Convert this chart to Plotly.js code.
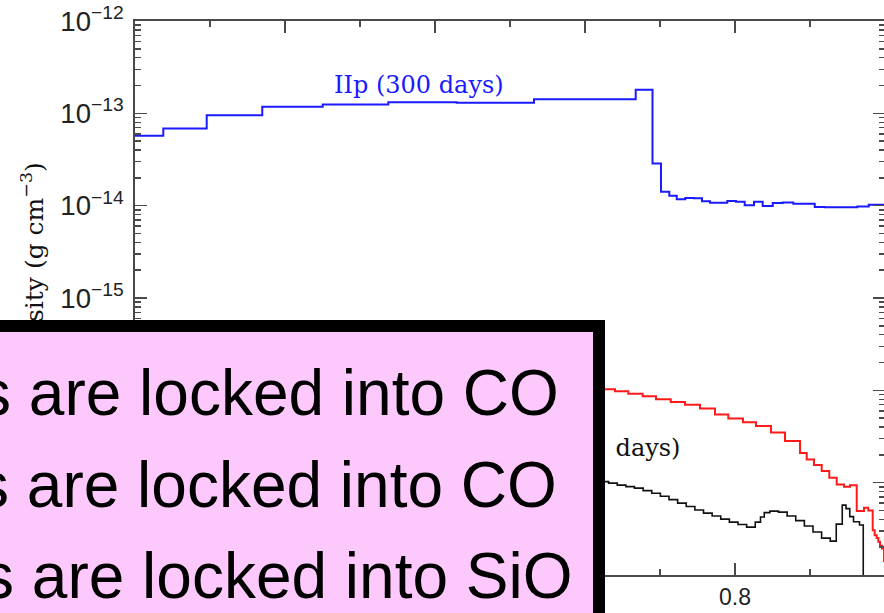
<!DOCTYPE html>
<html>
<head>
<meta charset="utf-8">
<script src="https://cdn.plot.ly/plotly-3.0.1.min.js"></script>
<style>
  html, body { margin: 0; padding: 0; background: #ffffff; overflow: hidden; }
  #chart { width: 886px; height: 613px; }
</style>
</head>
<body>
<div id="chart"></div>
<script>
// Mass coordinate (left bin edges) and gas density (g cm^-3), stepped profiles
const xIIp = [0, 0.0377, 0.0956, 0.1697, 0.2503, 0.3377, 0.4289, 0.532, 0.6676, 0.69,
  0.7013, 0.7124, 0.7223, 0.7337, 0.7453, 0.756, 0.7667, 0.7897, 0.8013, 0.8129,
  0.8253, 0.8369, 0.8503, 0.8636, 0.8777, 0.9063, 0.9196, 0.9631, 0.9783, 1.0];
const rhoIIp = [5.71e-14, 6.85e-14, 9.55e-14, 1.175e-13, 1.245e-13, 1.32e-13, 1.30e-13, 1.42e-13, 1.795e-13, 2.86e-14,
  1.415e-14, 1.28e-14, 1.175e-14, 1.21e-14, 1.20e-14, 1.115e-14, 1.075e-14, 1.12e-14, 1.10e-14, 1.01e-14,
  1.10e-14, 9.93e-15, 1.07e-14, 1.085e-14, 1.05e-14, 9.68e-15, 9.6e-15, 9.77e-15, 1.02e-14, 1.02e-14];

const xRed = [0.62, 0.64, 0.6577, 0.6769, 0.6947, 0.7143, 0.7333, 0.7533, 0.7733, 0.7911,
  0.8107, 0.828, 0.848, 0.8667, 0.8867, 0.8956, 0.9053, 0.9156, 0.9257, 0.9356,
  0.9453, 0.9533, 0.9623, 0.972, 0.9777, 0.9836, 0.9862, 0.9889, 0.9911, 0.9933,
  0.996, 0.9987, 1.0];
const rhoRed = [1.026e-16, 9.75e-17, 9.21e-17, 8.61e-17, 8.00e-17, 7.48e-17, 7.00e-17, 6.34e-17, 5.46e-17, 4.94e-17,
  4.51e-17, 4.11e-17, 3.49e-17, 2.83e-17, 2.10e-17, 1.78e-17, 1.55e-17, 1.34e-17, 1.13e-17, 9.57e-18,
  9.02e-18, 9.40e-18, 4.92e-18, 5.34e-18, 4.98e-18, 3.06e-18, 2.70e-18, 2.51e-18, 2.29e-18, 2.07e-18,
  1.94e-18, 1.42e-18, 1.42e-18];

const xBlack = [0.62, 0.6315, 0.643, 0.6545, 0.666, 0.6775, 0.689, 0.7005, 0.712, 0.7235,
  0.735, 0.7465, 0.758, 0.7695, 0.781, 0.7925, 0.804, 0.8155, 0.827, 0.834,
  0.839, 0.8465, 0.858, 0.8695, 0.881, 0.8925, 0.904, 0.9155, 0.927, 0.935,
  0.943, 0.948, 0.953, 0.958, 0.966, 0.971];
const rhoBlack = [1.026e-17, 9.89e-18, 9.40e-18, 9.06e-18, 8.73e-18, 8.20e-18, 7.69e-18, 7.14e-18, 6.55e-18, 6.00e-18,
  5.51e-18, 5.05e-18, 4.68e-18, 4.35e-18, 4.03e-18, 3.74e-18, 3.52e-18, 3.30e-18, 3.74e-18, 4.24e-18,
  4.74e-18, 4.92e-18, 4.80e-18, 4.35e-18, 3.88e-18, 3.39e-18, 2.92e-18, 2.51e-18, 2.33e-18, 3.56e-18,
  5.71e-18, 5.24e-18, 4.29e-18, 3.78e-18, 3.48e-18, 1e-19];

const xTickVals = [0, 0.2, 0.4, 0.6, 0.8];

const bulletLines = ["s are locked into CO", "s are locked into CO", "s are locked into SiO"];

// plot-area geometry helpers (pixels -> paper fractions)
const M = { l: 135, r: 1, t: 21, b: 38 };
const W = 886, H = 613;
const PW = W - M.l - M.r, PH = H - M.t - M.b;
const px = p => (p - M.l) / PW;
const py = p => (H - M.b - p) / PH;

const axisGrey = '#4a4a4a';
const serif = 'DejaVu Serif, serif';
const sans = 'Liberation Sans, Arial, sans-serif';

const traces = [
  { x: xIIp, y: rhoIIp, mode: 'lines', line: { shape: 'hv', color: '#1a1aff', width: 2 }, hoverinfo: 'skip' },
  { x: xRed, y: rhoRed, mode: 'lines', line: { shape: 'hv', color: '#ff1a1a', width: 2 }, hoverinfo: 'skip' },
  { x: xBlack, y: rhoBlack, mode: 'lines', line: { shape: 'hv', color: '#111111', width: 1.6 }, hoverinfo: 'skip' }
];

const annotations = [
  { xref: 'x', yref: 'y', x: 0.3787, y: -12.693, text: 'IIp (300 days)', showarrow: false,
    font: { family: serif, size: 24, color: '#1a1aff' } },
  { xref: 'x', yref: 'y', x: 0.7287, y: -16.625, xanchor: 'right', text: 'Ib (300\u00a0\u00a0 days)', showarrow: false,
    font: { family: serif, size: 24, color: '#111111' } },
  { xref: 'paper', yref: 'paper', x: px(32), y: py(268), xanchor: 'center', yanchor: 'middle',
    text: 'Density (g cm<sup>\u22123</sup>)',
    textangle: -90, showarrow: false, font: { family: serif, size: 25, color: '#111111' } },
  // pink panel with a heavy black frame
  { xref: 'paper', yref: 'paper', x: px(605), y: py(320), xanchor: 'right', yanchor: 'top',
    text: ' ', showarrow: false, width: 700, height: 360, bgcolor: '#fdc9fd',
    bordercolor: '#000000', borderwidth: 12, borderpad: 0 }
];

const lineRight = [561, 559, 575];
const lineMid = [393, 485, 576];
bulletLines.forEach((t, i) => {
  annotations.push({ xref: 'paper', yref: 'paper', x: px(lineRight[i]), y: py(lineMid[i]),
    xanchor: 'right', yanchor: 'middle', text: t, showarrow: false,
    font: { family: sans, size: 64, color: '#000000' } });
});

const layout = {
  width: W, height: H,
  margin: M,
  paper_bgcolor: '#ffffff', plot_bgcolor: '#ffffff',
  showlegend: false,
  xaxis: {
    range: [0, 1], tickmode: 'array', tickvals: xTickVals,
    ticks: 'inside', ticklen: 12, tickwidth: 1.5, tickcolor: axisGrey,
    minor: { tickmode: 'linear', tick0: 0, dtick: 0.1, ticks: 'inside', ticklen: 6, tickwidth: 1.5, tickcolor: axisGrey },
    showline: true, linecolor: axisGrey, linewidth: 2, mirror: 'ticks',
    showgrid: false, zeroline: false,
    tickfont: { family: sans, size: 23, color: '#222222' }
  },
  yaxis: {
    type: 'log', range: [-18, -12], dtick: 1, exponentformat: 'power',
    ticks: 'inside', ticklen: 12, tickwidth: 1.5, tickcolor: axisGrey,
    minor: { dtick: 'D1', ticks: 'inside', ticklen: 6, tickwidth: 1.5, tickcolor: axisGrey },
    showline: true, linecolor: axisGrey, linewidth: 2, mirror: 'ticks',
    showgrid: false, zeroline: false, ticklabelstandoff: 5,
    tickfont: { family: sans, size: 22, color: '#222222' }
  },
  annotations: annotations
};

Plotly.newPlot('chart', traces, layout, { staticPlot: true, displayModeBar: false });
</script>
</body>
</html>
